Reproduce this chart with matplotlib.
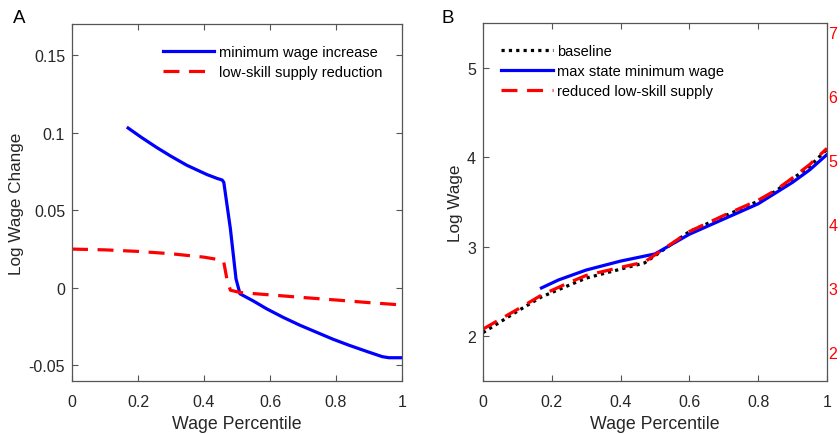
import numpy as np
import matplotlib.pyplot as plt

plt.rcParams['font.family'] = ['Liberation Sans', 'DejaVu Sans']

# panel A: log wage change by percentile
xa_min = [0.17, 0.21, 0.257, 0.30, 0.348, 0.409, 0.44, 0.455, 0.46, 0.48, 0.497, 0.509,
          0.55, 0.59, 0.64, 0.69, 0.74, 0.79, 0.84, 0.894, 0.94, 0.96, 1.0]
ya_min = [0.103, 0.097, 0.0904, 0.0848, 0.079, 0.073, 0.0705, 0.0695, 0.068, 0.038, 0.0058, -0.0038,
          -0.0085, -0.0135, -0.019, -0.024, -0.0285, -0.033, -0.037, -0.041, -0.0443, -0.045, -0.045]
xa_sup = [0, 0.1, 0.2, 0.3, 0.4, 0.45, 0.46, 0.47, 0.48, 0.51, 0.6, 0.7, 0.8, 0.9, 1.0]
ya_sup = [0.025, 0.0245, 0.0235, 0.022, 0.0198, 0.018, 0.0165, 0.005, -0.0015, -0.003,
          -0.0045, -0.0062, -0.0078, -0.0095, -0.011]

# panel B: log wage by percentile
xb_base = [0, 0.05, 0.1, 0.17, 0.25, 0.3, 0.4, 0.47, 0.5, 0.6, 0.7, 0.8, 0.85, 0.9, 0.95, 1.0]
yb_base = [2.04, 2.16, 2.28, 2.44, 2.57, 2.65, 2.75, 2.82, 2.90, 3.17, 3.34, 3.51, 3.62, 3.76, 3.90, 4.09]
xb_min = [0.17, 0.22, 0.3, 0.4, 0.5, 0.55, 0.6, 0.7, 0.8, 0.9, 0.95, 1.0]
yb_min = [2.54, 2.63, 2.74, 2.84, 2.92, 3.03, 3.14, 3.31, 3.48, 3.72, 3.86, 4.03]
xb_sup = [0, 0.05, 0.1, 0.17, 0.25, 0.3, 0.4, 0.47, 0.5, 0.6, 0.7, 0.8, 0.85, 0.9, 0.95, 1.0]
yb_sup = [2.08, 2.19, 2.30, 2.46, 2.60, 2.68, 2.77, 2.83, 2.91, 3.17, 3.35, 3.52, 3.63, 3.77, 3.92, 4.10]

xticks = [0, 0.2, 0.4, 0.6, 0.8, 1]
xticklabels = ['0', '0.2', '0.4', '0.6', '0.8', '1']
ya_ticks = [-0.05, 0, 0.05, 0.1, 0.15]
ya_labels = ['-0.05', '0', '0.05', '0.1', '0.15']
yb_ticks = [2, 3, 4, 5]
yb_right = [2, 3, 4, 5, 6, 7]

txt = '#262626'
spine = '#555555'
dash = (0, (5, 3))


def style(ax):
    ax.tick_params(direction='in', length=4, width=0.8, color=spine, labelcolor=txt,
                   labelsize=11.5, top=True, right=True, pad=5)
    ax.tick_params(axis='x', pad=9)
    for s in ax.spines.values():
        s.set_color(spine)
        s.set_linewidth(0.9)


fig = plt.figure(figsize=(8.4, 4.35), dpi=100)
ax1 = fig.add_axes([0.0857, 0.1218, 0.3929, 0.8207])
ax2 = fig.add_axes([0.575, 0.1218, 0.4095, 0.823])

ax1.plot(xa_min, ya_min, color='#0000ff', lw=2.3, label='minimum wage increase')
ax1.plot(xa_sup, ya_sup, color='#ff0000', lw=2.3, ls=dash, label='low-skill supply reduction')
ax1.set_xlim(0, 1)
ax1.set_ylim(-0.06, 0.17)
ax1.set_xticks(xticks, xticklabels)
ax1.set_yticks(ya_ticks, ya_labels)
ax1.set_xlabel('Wage Percentile', fontsize=12.8, color=txt, labelpad=5)
ax1.set_ylabel('Log Wage Change', fontsize=12.3, color=txt, labelpad=3)
style(ax1)
ax1.legend(loc='upper left', bbox_to_anchor=(0.194, 0.894), bbox_transform=fig.transFigure,
           frameon=False, fontsize=10.5, handlelength=3.5, handletextpad=0.34,
           labelspacing=0.4, borderpad=0, borderaxespad=0)

ax2.plot(xb_base, yb_base, color='black', lw=2.3, ls=(0, (1, 1.3)), label='baseline')
ax2.plot(xb_min, yb_min, color='#0000ff', lw=2.3, label='max state minimum wage')
ax2.plot(xb_sup, yb_sup, color='#ff0000', lw=2.3, ls=dash, label='reduced low-skill supply')
ax2.set_xlim(0, 1)
ax2.set_ylim(1.5, 5.5)
ax2.set_xticks(xticks, xticklabels)
ax2.set_yticks(yb_ticks)
ax2.set_xlabel('Wage Percentile', fontsize=12.8, color=txt, labelpad=5)
ax2.set_ylabel('Log Wage', fontsize=12.3, color=txt, labelpad=3)
style(ax2)
ax2.legend(loc='upper left', bbox_to_anchor=(0.5964, 0.896), bbox_transform=fig.transFigure,
           frameon=False, fontsize=10.5, handlelength=3.6, handletextpad=0.27,
           labelspacing=0.4, borderpad=0, borderaxespad=0)

ax3 = ax2.twinx()
ax3.set_ylim(1.543, 7.14)
ax3.set_yticks(yb_right)
ax3.tick_params(length=0, labelcolor='#ff0000', labelsize=11.5, pad=1)
for s in ax3.spines.values():
    s.set_visible(False)

fig.text(0.015, 0.977, 'A', fontsize=13.5, color='black', va='top')
fig.text(0.526, 0.977, 'B', fontsize=13.5, color='black', va='top')

fig.savefig('out.png', dpi=100)
